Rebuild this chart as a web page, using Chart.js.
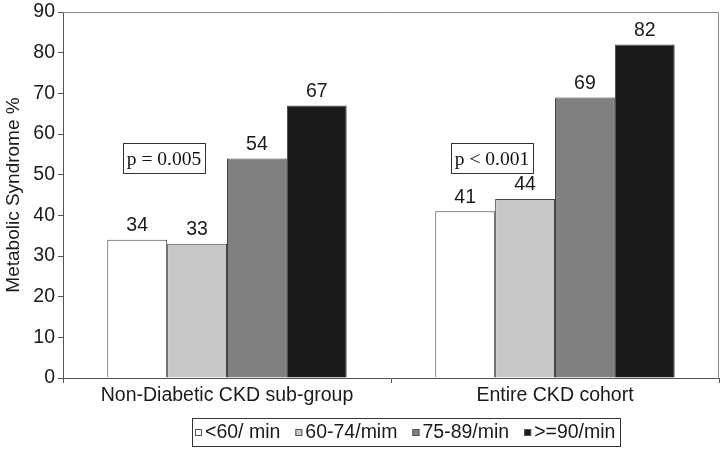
<!DOCTYPE html>
<html>
<head>
<meta charset="utf-8">
<script src="https://cdn.jsdelivr.net/npm/chart.js@4.4.0/dist/chart.umd.min.js"></script>
<style>
  html, body { margin: 0; padding: 0; background: #fff; }
  #wrap { width: 720px; height: 450px; }
</style>
</head>
<body>
<div id="wrap"><canvas id="chart" width="720" height="450"></canvas></div>
<script>
// data
const groups = ["Non-Diabetic CKD sub-group", "Entire CKD cohort"];
const rateLabels = ["<60/ min", "60-74/mim", "75-89/min", ">=90/min"];
const under60 = [34, 41];
const from60to74 = [33, 44];
const from75to89 = [54, 69];
const over90 = [67, 82];
const pValues = ["p = 0.005", "p < 0.001"];
const yTicks = [0, 10, 20, 30, 40, 50, 60, 70, 80, 90];

const fills = ["#ffffff", "#c8c8c8", "#808080", "#1a1a1a"];
const seriesValues = [under60, from60to74, from75to89, over90];
const FONT = "Liberation Sans, Arial, sans-serif";
const FS = 19.5;

// value labels, p-value boxes, frame and boxed legend
const extras = {
  id: "extras",
  afterDatasetsDraw(chart) {
    const ctx = chart.ctx;
    const area = chart.chartArea;
    const xs = chart.scales.x;
    const ys = chart.scales.y;

    // top + right frame
    ctx.save();
    ctx.strokeStyle = "#8a8a8a";
    ctx.lineWidth = 1;
    ctx.beginPath();
    ctx.moveTo(area.left, area.top + 0.5);
    ctx.lineTo(area.right - 0.5, area.top + 0.5);
    ctx.lineTo(area.right - 0.5, area.bottom);
    ctx.stroke();

    // numbers above bars
    ctx.fillStyle = "#1a1a1a";
    ctx.font = FS + "px " + FONT;
    ctx.textAlign = "center";
    ctx.textBaseline = "middle";
    chart.data.datasets.forEach((ds, i) => {
      chart.getDatasetMeta(i).data.forEach((bar, j) => {
        ctx.fillText(ds.data[j], bar.x, bar.y - 14);
      });
    });

    // p-value boxes
    ctx.font = "19.5px Liberation Serif, Times New Roman, serif";
    pValues.forEach((p, i) => {
      const cx = xs.getPixelForValue(i) - 63;
      const cy = ys.getPixelForValue(54);
      const w = ctx.measureText(p).width + 8;
      const h = 30;
      ctx.strokeStyle = "#333";
      ctx.strokeRect(Math.round(cx - w / 2) + 0.5, Math.round(cy - h / 2) + 0.5, Math.round(w), h);
      ctx.fillStyle = "#111";
      ctx.fillText(p, cx, cy + 1);
    });

    // legend with frame
    ctx.font = FS + "px " + FONT;
    ctx.textAlign = "left";
    const lx = 192, ly = 418, lh = 28;
    let x = lx + 3;
    const items = rateLabels.map((t) => ctx.measureText(t).width);
    let totalW = 0;
    items.forEach((w) => { totalW += 7 + 3 + w + 15; });
    totalW = totalW - 15 + 8;
    ctx.strokeStyle = "#333";
    ctx.strokeRect(lx + 0.5, ly + 0.5, Math.round(totalW), lh);
    rateLabels.forEach((t, i) => {
      ctx.fillStyle = fills[i];
      ctx.fillRect(x, ly + lh / 2 - 3, 7, 7);
      ctx.strokeStyle = "#555";
      ctx.strokeRect(x + 0.5, ly + lh / 2 - 2.5, 6, 6);
      ctx.fillStyle = "#1a1a1a";
      ctx.fillText(t, x + 10, ly + lh / 2 + 1);
      x += 7 + 3 + items[i] + 15;
    });
    ctx.restore();
  }
};

new Chart(document.getElementById("chart").getContext("2d"), {
  type: "bar",
  data: {
    labels: groups,
    datasets: seriesValues.map((vals, i) => ({
      label: rateLabels[i],
      data: vals,
      backgroundColor: fills[i],
      borderColor: "#444",
      borderWidth: 1,
      borderSkipped: "bottom",
      categoryPercentage: 0.73,
      barPercentage: 1.0
    }))
  },
  options: {
    responsive: false,
    animation: false,
    layout: { padding: { top: 12, right: 1, left: 0, bottom: 0 } },
    plugins: {
      legend: { display: false },
      tooltip: { enabled: false }
    },
    scales: {
      x: {
        afterFit: (s) => { s.height = 72; s.paddingLeft = 0; s.paddingRight = 0; },
        grid: { drawOnChartArea: false, drawTicks: true, tickLength: 5, color: "#555", offset: true },
        border: { color: "#555" },
        ticks: { color: "#1a1a1a", font: { size: FS, family: FONT }, padding: 1 }
      },
      y: {
        min: 0,
        max: 90,
        afterFit: (s) => { s.width = 63; s.paddingTop = 0; s.paddingBottom = 0; },
        afterBuildTicks: (s) => { s.ticks = yTicks.map((v) => ({ value: v })); },
        grid: { drawOnChartArea: false, drawTicks: true, tickLength: 5, color: "#555" },
        border: { color: "#555" },
        ticks: { color: "#1a1a1a", font: { size: FS, family: FONT }, padding: 3 },
        title: {
          display: true,
          text: "Metabolic Syndrome %",
          color: "#1a1a1a",
          font: { size: 19, family: FONT },
          padding: { top: 2, bottom: 0 }
        }
      }
    }
  },
  plugins: [extras]
});
</script>
</body>
</html>
